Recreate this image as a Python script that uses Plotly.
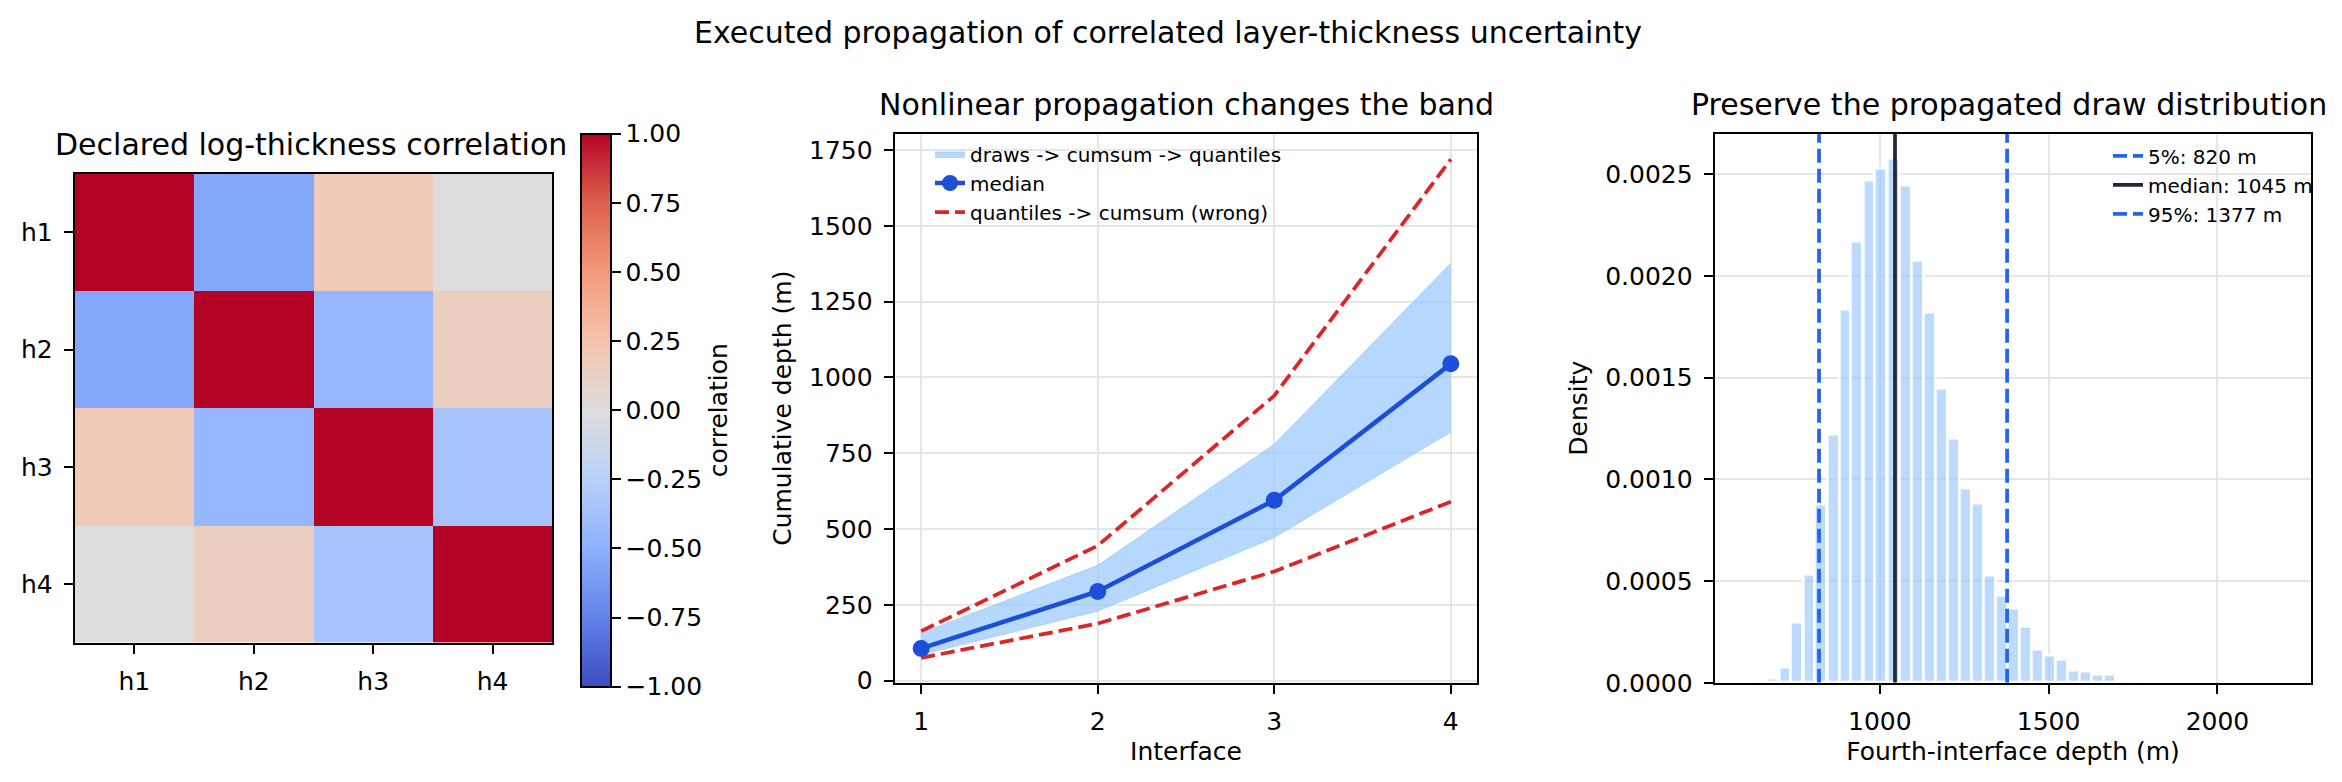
import plotly.graph_objects as go

# --- data ---
layers = ["h1", "h2", "h3", "h4"]
corr = [
    [1.00, -0.55, 0.20, 0.00],
    [-0.55, 1.00, -0.45, 0.15],
    [0.20, -0.45, 1.00, -0.35],
    [0.00, 0.15, -0.35, 1.00],
]

interfaces = [1, 2, 3, 4]
draw_median = [106, 294, 595, 1045]
draw_p05 = [85, 229, 472, 820]
draw_p95 = [157, 380, 780, 1377]
wrong_p05 = [75, 188, 360, 590]
wrong_p95 = [163, 445, 940, 1720]

bin_width = 35.6
bin_centers = [648, 684, 720, 755, 791, 826, 862, 898, 933, 969, 1004, 1040,
               1076, 1111, 1147, 1182, 1218, 1254, 1289, 1325, 1360, 1396,
               1432, 1467, 1503, 1538, 1574, 1610, 1645, 1681, 1716, 1752]
density = [0.000006, 0.00002, 0.000075, 0.000295, 0.00053, 0.000874, 0.00122,
           0.001834, 0.002168, 0.002468, 0.002526, 0.002575, 0.002443, 0.002075,
           0.001818, 0.001447, 0.0012, 0.000957, 0.00088, 0.000528, 0.000431,
           0.000366, 0.000279, 0.000162, 0.000134, 0.000115, 0.000061, 0.000055,
           0.000043, 0.000042, 0.000006, 0.000006]
q05, q50, q95 = 820, 1045, 1377
hist_ymax = 0.0027

# matplotlib "coolwarm" approximated
coolwarm = [
    [0.0, "rgb(59,76,192)"], [0.125, "rgb(98,130,234)"], [0.25, "rgb(141,176,254)"],
    [0.375, "rgb(184,208,249)"], [0.5, "rgb(221,221,221)"], [0.625, "rgb(245,196,173)"],
    [0.75, "rgb(244,154,123)"], [0.875, "rgb(222,96,77)"], [1.0, "rgb(180,4,38)"],
]

W, H = 2342, 782
FONT = "DejaVu Sans"
TICK = 25
TITLE = 30
LEG = 20
BAND = "rgba(147,197,253,0.68)"
MEDIAN = "#1d4ed8"
RED = "#dc2626"
QLINE = "#2563eb"
DARK = "#1f2937"
GRID = "#e6e6e6"
DASH = "14px,6px"

fig = go.Figure()

# panel 1: correlation heatmap
fig.add_trace(go.Heatmap(
    z=corr, x=layers, y=layers, zmin=-1, zmax=1, colorscale=coolwarm,
    xaxis="x", yaxis="y", hoverinfo="skip",
    colorbar=dict(
        x=573 / W, xanchor="left", xpad=0, ypad=0,
        y=1 - 410 / H, yanchor="middle",
        len=564 / H, lenmode="fraction", thickness=30,
        outlinewidth=2, outlinecolor="black",
        ticks="outside", ticklen=9, tickwidth=2, tickcolor="black",
        tickvals=[-1, -0.75, -0.5, -0.25, 0, 0.25, 0.5, 0.75, 1],
        tickformat=".2f", tickfont=dict(size=TICK),
        title=dict(text="correlation", side="right", font=dict(size=TICK)),
    ),
))

# panel 2: propagated band vs wrong band
fig.add_trace(go.Scatter(
    x=interfaces, y=draw_p05, mode="lines", line=dict(color=BAND, width=1),
    showlegend=False, xaxis="x2", yaxis="y2", hoverinfo="skip"))
fig.add_trace(go.Scatter(
    x=interfaces, y=draw_p95, mode="lines", line=dict(color=BAND, width=1),
    fill="tonexty", fillcolor=BAND, name="draws -> cumsum -> quantiles",
    legend="legend", legendrank=1, xaxis="x2", yaxis="y2"))
fig.add_trace(go.Scatter(
    x=interfaces, y=wrong_p95, mode="lines",
    line=dict(color=RED, width=3.75, dash=DASH),
    name="quantiles -> cumsum (wrong)", legend="legend", legendrank=3,
    xaxis="x2", yaxis="y2"))
fig.add_trace(go.Scatter(
    x=interfaces, y=wrong_p05, mode="lines",
    line=dict(color=RED, width=3.75, dash=DASH),
    showlegend=False, xaxis="x2", yaxis="y2"))
fig.add_trace(go.Scatter(
    x=interfaces, y=draw_median, mode="lines+markers",
    line=dict(color=MEDIAN, width=4.5), marker=dict(color=MEDIAN, size=17),
    name="median", legend="legend", legendrank=2, xaxis="x2", yaxis="y2"))

# panel 3: histogram of fourth-interface depth
fig.add_trace(go.Bar(
    x=bin_centers, y=density, width=bin_width,
    marker=dict(color="rgba(147,197,253,0.62)", line=dict(color="white", width=2.7)),
    showlegend=False, xaxis="x3", yaxis="y3", hoverinfo="skip"))
for q, label, color, dash in [
    (q05, f"5%: {q05} m", QLINE, DASH),
    (q50, f"median: {q50} m", DARK, "solid"),
    (q95, f"95%: {q95} m", QLINE, DASH),
]:
    fig.add_trace(go.Scatter(
        x=[q, q], y=[0, hist_ymax], mode="lines",
        line=dict(color=color, width=3.75, dash=dash),
        name=label, legend="legend2", xaxis="x3", yaxis="y3"))

axis_common = dict(
    showline=True, linecolor="black", linewidth=2, mirror=True,
    ticks="outside", ticklen=9, tickwidth=2, tickcolor="black",
    tickfont=dict(size=TICK), zeroline=False, ticklabelstandoff=6,
)
grid = dict(showgrid=True, gridcolor=GRID, gridwidth=1.8)
top, bottom = 1 - 128 / H, 1 - 688 / H

fig.update_layout(
    width=W, height=H,
    margin=dict(l=0, r=0, t=0, b=0),
    paper_bgcolor="white", plot_bgcolor="white",
    font=dict(family=FONT, size=TICK, color="black"),
    xaxis=dict(axis_common, domain=[66.7 / W, 544.3 / W], anchor="y", showgrid=False),
    yaxis=dict(axis_common, domain=[1 - 647 / H, 1 - 169 / H], anchor="x",
               autorange="reversed", showgrid=False),
    xaxis2=dict(axis_common, **grid, domain=[886.7 / W, 1469.3 / W], anchor="y2",
                range=[0.85, 4.15], tickvals=interfaces,
                title=dict(text="Interface", standoff=8, font=dict(size=TICK))),
    yaxis2=dict(axis_common, **grid, domain=[bottom, top], anchor="x2",
                range=[-7.5, 1805], dtick=250,
                title=dict(text="Cumulative depth (m)", standoff=10, font=dict(size=TICK))),
    xaxis3=dict(axis_common, **grid, domain=[1706.7 / W, 2303.3 / W], anchor="y3",
                range=[511, 2278], tickvals=[1000, 1500, 2000],
                title=dict(text="Fourth-interface depth (m)", standoff=8, font=dict(size=TICK))),
    yaxis3=dict(axis_common, **grid, domain=[bottom, top], anchor="x3",
                range=[0, hist_ymax], dtick=0.0005, tickformat=".4f",
                title=dict(text="Density", standoff=10, font=dict(size=TICK))),
    legend=dict(x=922 / W, y=1 - 129 / H, xanchor="left", yanchor="top",
                bgcolor="rgba(0,0,0,0)", font=dict(size=LEG), traceorder="normal"),
    legend2=dict(x=2100 / W, y=1 - 131 / H, xanchor="left", yanchor="top",
                 bgcolor="rgba(0,0,0,0)", font=dict(size=LEG)),
    bargap=0,
    annotations=[
        dict(text="Executed propagation of correlated layer-thickness uncertainty",
             x=1160 / W, y=1 - 25 / H, xref="paper", yref="paper", showarrow=False,
             xanchor="center", yanchor="middle", font=dict(size=TITLE)),
        dict(text="Declared log-thickness correlation",
             x=(66.7 + 544.3) / 2 / W - 3 / W, y=1 - 139 / H, xref="paper", yref="paper",
             showarrow=False, xanchor="center", yanchor="middle", font=dict(size=TITLE)),
        dict(text="Nonlinear propagation changes the band",
             x=(886.7 + 1469.3) / 2 / W, y=1 - 98 / H, xref="paper", yref="paper",
             showarrow=False, xanchor="center", yanchor="middle", font=dict(size=TITLE)),
        dict(text="Preserve the propagated draw distribution",
             x=(1706.7 + 2303.3) / 2 / W - 4 / W, y=1 - 98 / H, xref="paper", yref="paper",
             showarrow=False, xanchor="center", yanchor="middle", font=dict(size=TITLE)),
    ],
)

fig.write_html("out.html")
